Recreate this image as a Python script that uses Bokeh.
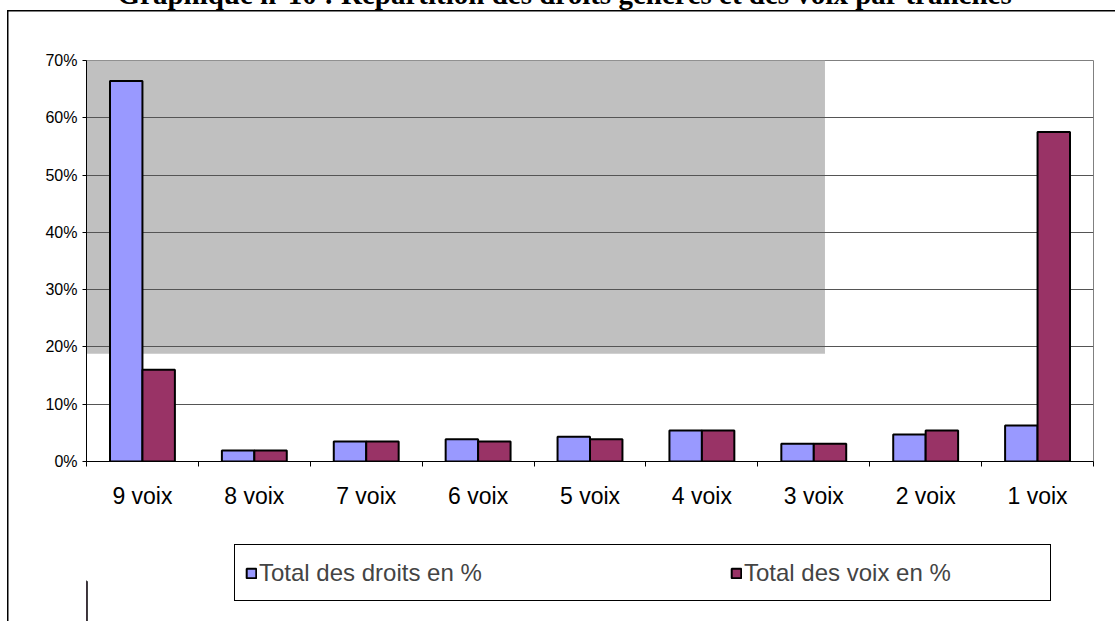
from bokeh.plotting import figure
from bokeh.layouts import column
from bokeh.models import (Range1d, LinearAxis, FixedTicker, PrintfTickFormatter, CustomJSTickFormatter,
                          Legend, LegendItem, Title, ColumnDataSource, Grid)
from bokeh.embed import file_html
from bokeh.resources import INLINE

# ---- data ----
categories = ["9 voix", "8 voix", "7 voix", "6 voix", "5 voix", "4 voix", "3 voix", "2 voix", "1 voix"]
droits_pct = [66.4, 1.9, 3.5, 3.9, 4.3, 5.4, 3.1, 4.7, 6.3]
voix_pct = [16.0, 1.9, 3.5, 3.5, 3.9, 5.4, 3.1, 5.4, 57.5]
y_ticks = [0, 10, 20, 30, 40, 50, 60, 70]
gray_region = dict(left=0.0, right=6.6, bottom=18.8, top=70.0)
title_text = "Graphique n°10 : Répartition des droits générés et des voix par tranches"
legend_labels = ["Total des droits en %", "Total des voix en %"]

n = len(categories)
BAR_W = 0.29
centers = [i + 0.5 for i in range(n)]
boundaries = list(range(n + 1))
src = ColumnDataSource(dict(
    cat=categories,
    x1=[c - BAR_W / 2 for c in centers],
    x2=[c + BAR_W / 2 for c in centers],
    droits=droits_pct,
    voix=voix_pct,
))

FONT = "Liberation Sans"
BLUE = "#9999FF"
PLUM = "#993366"
TOP_SHIFT = 80  # the chart is pulled up so that the title is cut like in the reference
CHART_BOTTOM = 80
LEGEND_H = 80


def frame_lines(top_px):
    return {
        "background-color": "white",
        "background-image": "linear-gradient(#000, #000), linear-gradient(#000, #000)",
        "background-size": "1.5px 3000px, 3000px 1.5px",
        "background-position": f"7px {top_px}px, 7px {top_px}px",
        "background-repeat": "no-repeat",
    }


p = figure(frame_width=1007, frame_height=401, x_range=Range1d(0, n), y_range=Range1d(0, 70),
           output_backend="svg", toolbar_location=None, x_axis_type=None, y_axis_type=None,
           min_border_left=86, min_border_right=22, min_border_top=60 + TOP_SHIFT,
           min_border_bottom=CHART_BOTTOM)
p.margin = (-TOP_SHIFT, 0, 0, 0)
p.outline_line_color = "#808080"
p.background_fill_color = "white"
p.border_fill_alpha = 0
p.styles = frame_lines(10 + TOP_SHIFT)

# title
p.add_layout(Title(text=title_text, align="left", offset=31, text_font="Liberation Serif",
                   text_font_style="bold", text_font_size="29px", text_color="black",
                   standoff=102), "above")

# gray area
p.quad(left=[gray_region["left"]], right=[gray_region["right"]],
       bottom=[gray_region["bottom"]], top=[gray_region["top"]],
       fill_color="#C0C0C0", line_color=None, level="image")

# y axis
yaxis = LinearAxis(ticker=FixedTicker(ticks=y_ticks), formatter=PrintfTickFormatter(format="%d%%"))
yaxis.major_tick_out = 4
yaxis.major_tick_in = 0
yaxis.minor_tick_line_color = None
yaxis.axis_line_color = "black"
yaxis.major_tick_line_color = "black"
yaxis.major_label_text_font = FONT
yaxis.major_label_text_font_size = "16px"
yaxis.major_label_text_color = "black"
yaxis.major_label_standoff = 5
p.add_layout(yaxis, "left")
p.add_layout(Grid(dimension=1, ticker=FixedTicker(ticks=y_ticks), grid_line_color="#555555", grid_line_width=1))

# x axis: labels at category centres, tick marks at category boundaries
xaxis = LinearAxis(ticker=FixedTicker(ticks=centers, minor_ticks=boundaries),
                   formatter=CustomJSTickFormatter(args=dict(cats=categories),
                                                   code="return cats[Math.floor(tick)];"))
xaxis.major_tick_line_color = None
xaxis.major_tick_out = 0
xaxis.major_tick_in = 0
xaxis.minor_tick_out = 5
xaxis.minor_tick_in = 0
xaxis.minor_tick_line_color = "black"
xaxis.axis_line_color = "black"
xaxis.major_label_text_font = FONT
xaxis.major_label_text_font_size = "23px"
xaxis.major_label_text_color = "black"
xaxis.major_label_standoff = 16
p.add_layout(xaxis, "below")

p.vbar(x="x1", top="droits", bottom=0, width=BAR_W, source=src,
       fill_color=BLUE, line_color="black", line_width=2)
p.vbar(x="x2", top="voix", bottom=0, width=BAR_W, source=src,
       fill_color=PLUM, line_color="black", line_width=2)

# ---- legend strip (second figure directly below the chart; its frame aligns with the chart's) ----
q = figure(width=1115, height=LEGEND_H, x_range=Range1d(0, 1), y_range=Range1d(0, 1),
           output_backend="svg", toolbar_location=None, x_axis_type=None, y_axis_type=None,
           min_border=0, min_border_left=0, min_border_right=0, min_border_top=0, min_border_bottom=0)
q.outline_line_color = None
q.background_fill_alpha = 0
q.border_fill_alpha = 0
q.styles = frame_lines(-10)

# legend-only renderers: one bar each, placed outside the visible range
lr1 = q.vbar(x=[-10], top=[0.5], width=0.1, fill_color=BLUE, line_color="black", line_width=2)
lr2 = q.vbar(x=[-10], top=[0.5], width=0.1, fill_color=PLUM, line_color="black", line_width=2)

legend = Legend(items=[LegendItem(label=legend_labels[0], renderers=[lr1]),
                       LegendItem(label=legend_labels[1], renderers=[lr2])],
                orientation="horizontal", location=(148, 20), margin=0,
                glyph_width=12, glyph_height=12, label_text_font=FONT,
                label_text_font_size="24px", label_width=296, label_height=35,
                label_standoff=2, spacing=175, padding=10,
                border_line_color="black", border_line_width=1, border_line_alpha=1,
                background_fill_color="white", background_fill_alpha=1)
q.add_layout(legend)

layout = column(p, q, spacing=0)
open("out.html", "w").write(file_html(layout, INLINE))
